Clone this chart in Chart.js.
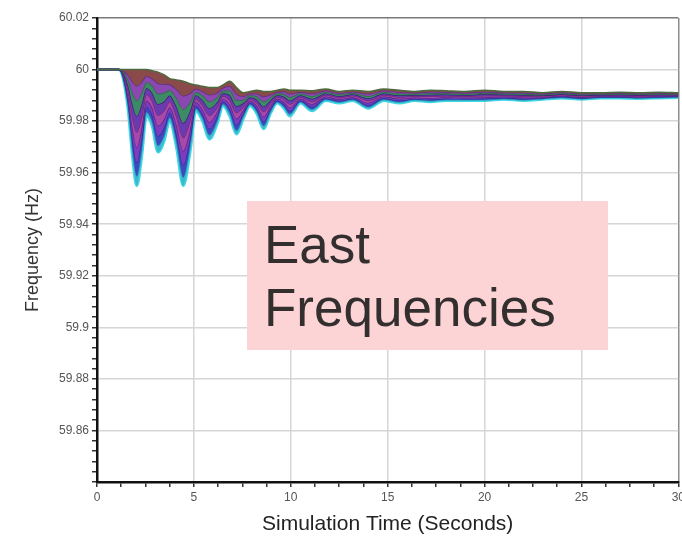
<!DOCTYPE html>
<html>
<head>
<meta charset="utf-8">
<title>East Frequencies</title>
<script src="https://cdn.jsdelivr.net/npm/chart.js@4/dist/chart.umd.min.js"></script>
<style>
  html, body { margin: 0; padding: 0; background: #fff; overflow: hidden; }
  #wrap { position: relative; width: 688px; height: 538px; }
  #note {
    position: absolute; left: 247px; top: 201px; width: 344px; height: 137px;
    padding: 12px 0 0 17px;
    background: #fdd4d6; color: #332f2f;
    font-family: "Liberation Sans", Arial, sans-serif; font-size: 53px; line-height: 63px;
  }
</style>
</head>
<body>
<div id="wrap">
  <canvas id="freqChart" width="688" height="538"></canvas>
  <div id="note">East<br>Frequencies</div>
</div>
<script>
// simulation time (s), shared by every trace
const timeSec = [0, 1.1, 1.3, 1.6, 1.85, 2.05, 2.3, 2.55, 2.85, 3.15, 3.45, 3.75, 4.1, 4.45, 4.8, 5.1, 5.45, 5.8, 6.2, 6.5,
  6.85, 7.2, 7.55, 7.9, 8.25, 8.6, 8.95, 9.3, 9.65, 9.95, 10.5, 11.1, 11.8, 12.5, 13.2, 14, 14.8, 15.6, 16.4, 17.2,
  18, 19, 20, 21, 22, 23, 24, 25, 26, 27, 28, 29, 30];

// bus frequencies (Hz), deepest trace first, shallowest last
const freqS1 = [60, 60, 59.998, 59.985, 59.965, 59.955, 59.966, 59.982, 59.978, 59.968, 59.972, 59.980, 59.970, 59.955, 59.968, 59.984, 59.980, 59.973, 59.979, 59.986,
  59.982, 59.975, 59.981, 59.986, 59.983, 59.977, 59.983, 59.987, 59.985, 59.982, 59.987, 59.984, 59.988, 59.987, 59.988, 59.985, 59.988, 59.987, 59.988, 59.9875,
  59.988, 59.988, 59.988, 59.9885, 59.988, 59.9885, 59.989, 59.9885, 59.989, 59.989, 59.9888, 59.989, 59.9892];
const freqS2 = [60, 60, 59.9982, 59.9862, 59.9678, 59.9586, 59.9687, 59.9834, 59.9797, 59.9705, 59.9741, 59.9813, 59.9721, 59.9582, 59.9701, 59.9848, 59.9811, 59.9746, 59.9801, 59.9866,
  59.9831, 59.9764, 59.9818, 59.9864, 59.9837, 59.9782, 59.9837, 59.9874, 59.9856, 59.9828, 59.9874, 59.9846, 59.9884, 59.9874, 59.9883, 59.9855, 59.9884, 59.9874, 59.9883, 59.9879,
  59.9883, 59.9883, 59.9883, 59.9887, 59.9883, 59.9887, 59.9892, 59.9887, 59.9892, 59.9892, 59.989, 59.9892, 59.9893];
const freqS3 = [60, 60, 59.9984, 59.988, 59.972, 59.964, 59.9728, 59.9856, 59.9823, 59.9742, 59.9772, 59.9833, 59.9752, 59.9631, 59.9733, 59.986, 59.9827, 59.977, 59.9818, 59.9876,
  59.9847, 59.9786, 59.983, 59.9871, 59.9848, 59.9799, 59.9847, 59.988, 59.9865, 59.984, 59.988, 59.9856, 59.9889, 59.9879, 59.9888, 59.9863, 59.9889, 59.988, 59.9887, 59.9884,
  59.9888, 59.9887, 59.9888, 59.9891, 59.9887, 59.989, 59.9895, 59.989, 59.9894, 59.9894, 59.9892, 59.9894, 59.9896];
const freqS4 = [60, 60, 59.9987, 59.990, 59.9766, 59.9699, 59.9772, 59.9879, 59.9851, 59.9782, 59.9806, 59.9854, 59.9786, 59.9684, 59.9767, 59.9873, 59.9845, 59.9796, 59.9836, 59.9886,
  59.9865, 59.9809, 59.9843, 59.9878, 59.986, 59.9818, 59.9858, 59.9887, 59.9875, 59.9853, 59.9887, 59.9866, 59.9895, 59.9885, 59.9893, 59.9871, 59.9895, 59.9887, 59.9892, 59.989,
  59.9893, 59.9892, 59.9893, 59.9895, 59.9892, 59.9893, 59.9898, 59.9893, 59.9897, 59.9897, 59.9895, 59.9897, 59.9898];
const freqS5 = [60, 60, 59.9989, 59.9919, 59.9811, 59.9757, 59.9816, 59.9903, 59.9879, 59.9823, 59.984, 59.9876, 59.982, 59.9736, 59.9802, 59.9886, 59.9862, 59.9822, 59.9854, 59.9897,
  59.9882, 59.9833, 59.9856, 59.9885, 59.9871, 59.9837, 59.9869, 59.9893, 59.9885, 59.9866, 59.9893, 59.9876, 59.9901, 59.9891, 59.9898, 59.988, 59.9901, 59.9893, 59.9896, 59.9896,
  59.9897, 59.9896, 59.9898, 59.9899, 59.9896, 59.9897, 59.9902, 59.9897, 59.9899, 59.990, 59.9898, 59.990, 59.990];
const freqS6 = [60, 60, 59.9992, 59.994, 59.986, 59.982, 59.9864, 59.9928, 59.9909, 59.9866, 59.9876, 59.9899, 59.9856, 59.9793, 59.9839, 59.990, 59.9881, 59.985, 59.9874, 59.9908,
  59.9901, 59.9858, 59.987, 59.9893, 59.9884, 59.9857, 59.9881, 59.990, 59.9895, 59.988, 59.990, 59.9887, 59.9907, 59.9897, 59.9904, 59.9889, 59.9907, 59.990, 59.9901, 59.9902,
  59.9903, 59.9901, 59.9904, 59.9903, 59.9901, 59.990, 59.9905, 59.990, 59.9902, 59.9903, 59.9901, 59.9903, 59.9903];
const freqS7 = [60, 60, 59.9995, 59.996, 59.9906, 59.9879, 59.9908, 59.9951, 59.9937, 59.9906, 59.991, 59.992, 59.989, 59.9846, 59.9873, 59.9913, 59.9899, 59.9876, 59.9892, 59.9918,
  59.9919, 59.9881, 59.9883, 59.990, 59.9896, 59.9876, 59.9892, 59.9907, 59.9905, 59.9893, 59.9907, 59.9897, 59.9913, 59.9903, 59.9909, 59.9897, 59.9913, 59.9907, 59.9906, 59.9908,
  59.9908, 59.9906, 59.9909, 59.9907, 59.9906, 59.9903, 59.9908, 59.9903, 59.9905, 59.9906, 59.9904, 59.9906, 59.9905];
const freqS8 = [60, 60, 59.9997, 59.9979, 59.9951, 59.9937, 59.9952, 59.9975, 59.9965, 59.9947, 59.9944, 59.9942, 59.9924, 59.9898, 59.9908, 59.9926, 59.9916, 59.9902, 59.991, 59.9929,
  59.9936, 59.9905, 59.9896, 59.9907, 59.9907, 59.9895, 59.9903, 59.9913, 59.9915, 59.9906, 59.9913, 59.9907, 59.9919, 59.9909, 59.9914, 59.9906, 59.9919, 59.9913, 59.991, 59.9914,
  59.9913, 59.991, 59.9914, 59.9911, 59.991, 59.9907, 59.9912, 59.9907, 59.9907, 59.9909, 59.9907, 59.9909, 59.9907];
const freqS9 = [60, 60, 60, 60, 60, 60, 60, 60, 59.9995, 59.999, 59.998, 59.9965, 59.996, 59.9955, 59.9945, 59.994, 59.9935, 59.993, 59.993, 59.994,
  59.9955, 59.993, 59.991, 59.9915, 59.992, 59.9915, 59.9915, 59.992, 59.9925, 59.992, 59.992, 59.9918, 59.9925, 59.9915, 59.992, 59.9915, 59.9925, 59.992, 59.9915, 59.992,
  59.9918, 59.9915, 59.992, 59.9915, 59.9915, 59.991, 59.9915, 59.991, 59.991, 59.9912, 59.991, 59.9912, 59.991];

// axis labels
const yTickLabels = ['60.02', '60', '59.98', '59.96', '59.94', '59.92', '59.9', '59.88', '59.86'];
const xTickLabels = ['0', '5', '10', '15', '20', '25', '30'];

// colours, same order as the traces
const traceSeries = [freqS1, freqS2, freqS3, freqS4, freqS5, freqS6, freqS7, freqS8, freqS9];
const lineColors = ['#3fd6e6', '#2a9cb4', '#2a3494', '#55288c', '#7a2a7a', '#3a2470', '#2c6a48', '#5e2e86', '#4d6a3c'];
const fillColors = ['#3fd6e6', '#3cb8cc', '#4048c0', '#7d3cc0', '#a848a8', '#6a3ab0', '#3d8a66', '#8a48b0', '#8a4a4a'];

const isMajor = (v, step) => Math.abs(v / step - Math.round(v / step)) < 1e-4;

Chart.defaults.font.family = '"Liberation Sans", Arial, sans-serif';

const datasets = traceSeries.map((vals, i) => ({
  data: timeSec.map((t, j) => ({ x: t, y: vals[j] })),
  borderColor: lineColors[i],
  backgroundColor: fillColors[i],
  borderWidth: i === 0 ? 3 : 1.5,
  fill: i === 0 ? false : '-1',
  pointRadius: 0,
  cubicInterpolationMode: 'monotone',
  order: -i
}));

new Chart(document.getElementById('freqChart'), {
  type: 'line',
  data: { datasets: datasets },
  options: {
    responsive: false,
    animation: false,
    events: [],
    layout: { padding: { top: 18, right: 0, left: 0, bottom: 0 } },
    plugins: { legend: { display: false }, tooltip: { enabled: false } },
    scales: {
      x: {
        type: 'linear',
        min: 0,
        max: 30,
        afterFit: (scale) => { scale.height = 56; },
        border: { display: true, color: '#111', width: 2.5 },
        grid: {
          color: (ctx) => {
            const v = ctx.tick.value;
            if (!isMajor(v, 5)) return 'rgba(0,0,0,0)';
            return v >= 30 ? '#8c8c8c' : '#d6d6d6';
          },
          lineWidth: 1.5,
          tickColor: '#333',
          tickLength: 5
        },
        ticks: {
          stepSize: 1.25,
          autoSkip: false,
          maxRotation: 0,
          padding: 3,
          color: '#555',
          font: { size: 12 },
          callback: (v) => xTickLabels.find((l) => Math.abs(parseFloat(l) - v) < 1e-6) || ''
        },
        title: {
          display: true,
          text: 'Simulation Time (Seconds)',
          color: '#222',
          font: { size: 21 },
          padding: { top: 0, bottom: 1 }
        }
      },
      y: {
        type: 'linear',
        min: 59.84,
        max: 60.02,
        afterFit: (scale) => { scale.width = 97; },
        border: { display: true, color: '#111', width: 2.5 },
        grid: {
          color: (ctx) => {
            const v = ctx.tick.value;
            if (!isMajor(v, 0.02)) return 'rgba(0,0,0,0)';
            return v > 60.01 ? '#7a7a7a' : '#d6d6d6';
          },
          lineWidth: 1.5,
          tickColor: '#333',
          tickLength: 5
        },
        ticks: {
          stepSize: 0.004,
          autoSkip: false,
          padding: 3,
          color: '#555',
          font: { size: 12 },
          callback: (v) => yTickLabels.find((l) => Math.abs(parseFloat(l) - v) < 1e-6) || ''
        },
        title: {
          display: true,
          text: 'Frequency (Hz)',
          color: '#333',
          font: { size: 18 },
          padding: { top: 22, bottom: 0 }
        }
      }
    }
  }
});
</script>
</body>
</html>
